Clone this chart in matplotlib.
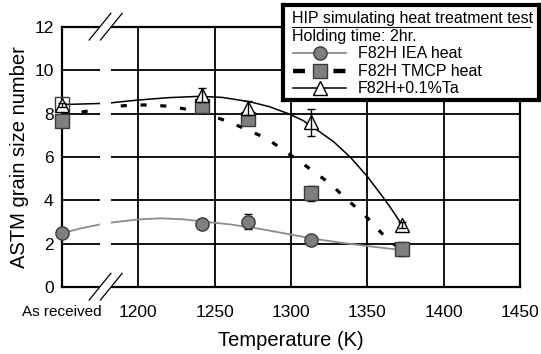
import matplotlib
matplotlib.use("Agg")
import matplotlib.pyplot as plt
from matplotlib.patches import Rectangle
from matplotlib.lines import Line2D

plt.rcParams['font.family'] = ['Liberation Sans', 'DejaVu Sans']

# ---------------- data ----------------
AS_RECEIVED = 1150  # x position used for the "As received" state
temps = [AS_RECEIVED, 1242, 1272, 1313, 1373]

iea_g = [2.48, 2.89, 3.01, 2.17, 1.75]
iea_err = [0.05, 0.05, 0.35, 0.05, 0.05]

tmcp_g = [7.65, 8.35, 7.75, 4.33, 1.76]
tmcp_err = [0.1, 0.1, 0.1, 0.35, 0.33]

ta_g = [8.40, 8.86, 8.25, 7.60, 2.86]
ta_err = [0.1, 0.33, 0.33, 0.63, 0.15]

extra_open_square = (AS_RECEIVED, 8.44)

# trend curves
iea_fit_T = [1150, 1162, 1175, 1182, 1200, 1215, 1230, 1245, 1260, 1280, 1300, 1313, 1330, 1350, 1372]
iea_fit_G = [2.48, 2.70, 2.89, 2.97, 3.12, 3.17, 3.12, 3.00, 2.89, 2.68, 2.42, 2.25, 2.07, 1.89, 1.71]

tmcp_fit_T = [1150, 1162, 1173, 1185, 1196, 1207, 1218, 1228, 1240, 1251, 1262, 1273, 1284, 1295,
              1306, 1316, 1326, 1335, 1344, 1352, 1359, 1366, 1372]
tmcp_fit_G = [7.95, 8.06, 8.20, 8.33, 8.40, 8.40, 8.35, 8.25, 8.09, 7.83, 7.55, 7.20, 6.86, 6.32,
              5.78, 5.27, 4.75, 4.14, 3.59, 3.06, 2.51, 2.05, 1.75]

ta_fit_T = [1150, 1175, 1182, 1200, 1220, 1240, 1255, 1273, 1286, 1299, 1308, 1317, 1328, 1339,
            1350, 1360, 1366, 1372]
ta_fit_G = [8.42, 8.47, 8.50, 8.63, 8.74, 8.80, 8.75, 8.55, 8.32, 7.98, 7.68, 7.25, 6.70, 5.98,
            5.10, 4.17, 3.58, 2.94]

xtick_vals = [1150, 1200, 1250, 1300, 1350, 1400, 1450]
xtick_labels = ["As received", "1200", "1250", "1300", "1350", "1400", "1450"]
ytick_vals = [0, 2, 4, 6, 8, 10, 12]

legend_title = "HIP simulating heat treatment test"
legend_sub = "Holding time: 2hr."
series_names = ["F82H IEA heat", "F82H TMCP heat", "F82H+0.1%Ta"]

# break position on the x axis
BREAK_LO, BREAK_HI = 1174.6, 1182.0

# ---------------- styling ----------------
GRAY_LINE = "#8c8c8c"
GRAY_FILL = "#7f7f7f"
EDGE = "#3a3a3a"

W, H = 541, 354
fig = plt.figure(figsize=(W / 100, H / 100), dpi=100)
ax = fig.add_axes([62 / W, (H - 287) / H, (520 - 62) / W, (287 - 27) / H])

ax.set_xlim(1150, 1450)
ax.set_ylim(0, 12)

# grid
ax.set_xticks(xtick_vals)
ax.set_yticks(ytick_vals)
ax.grid(True, color="black", linewidth=1.3, zorder=1)
ax.set_axisbelow(True)
for s in ax.spines.values():
    s.set_linewidth(1.6)
    s.set_zorder(2.5)

ax.set_xticklabels(xtick_labels)
ax.tick_params(axis="x", length=0, pad=13, labelsize=12.5)
ax.tick_params(axis="y", length=0, pad=6, labelsize=12.5)
ax.get_xticklabels()[0].set_fontsize(11)

ax.set_xlabel("Temperature (K)", fontsize=14.5, labelpad=8)
ax.set_ylabel("ASTM grain size number", fontsize=14.5, labelpad=4)

# trend curves
ax.plot(iea_fit_T, iea_fit_G, color=GRAY_LINE, lw=1.3, zorder=2, solid_capstyle="butt")
ax.plot(tmcp_fit_T, tmcp_fit_G, color="black", lw=2.3, zorder=2, dashes=(1.9, 4.3))
ax.plot(ta_fit_T, ta_fit_G, color="black", lw=1.1, zorder=2)

# white band for the axis break
ax.add_patch(Rectangle((BREAK_LO, -0.15), BREAK_HI - BREAK_LO, 12.3, facecolor="white",
                       edgecolor="none", zorder=2.7, clip_on=False))
# break slashes (top and bottom)
for yc in (0, 12):
    for xs in (BREAK_LO - 6.8, BREAK_HI - 6.8):
        ax.add_line(Line2D([xs, xs + 14.2], [yc - 0.6, yc + 0.63], color="black", lw=0.9,
                           zorder=2.8, clip_on=False))

# data: error bars + markers
ax.errorbar(temps, iea_g, yerr=iea_err, fmt="none", ecolor="black", elinewidth=1, capsize=3,
            zorder=3, clip_on=False)
ax.plot(temps, iea_g, "o", ms=9.5, mfc=GRAY_FILL, mec=EDGE, mew=1, ls="none", zorder=4, clip_on=False)

ax.errorbar(temps, tmcp_g, yerr=tmcp_err, fmt="none", ecolor="black", elinewidth=1, capsize=3,
            zorder=3, clip_on=False)
ax.plot(temps, tmcp_g, "s", ms=9.5, mfc=GRAY_FILL, mec=EDGE, mew=1, ls="none", zorder=4, clip_on=False)

ax.plot([extra_open_square[0]], [extra_open_square[1]], "s", ms=10.5, mfc="none", mec=EDGE, mew=1,
        zorder=4, clip_on=False)
ax.plot(temps, ta_g, "^", ms=10, mfc="white", mec="black", mew=1, ls="none", zorder=5, clip_on=False)
ax.errorbar(temps, ta_g, yerr=ta_err, fmt="none", ecolor="black", elinewidth=1, capsize=3,
            zorder=6, clip_on=False)

# ---------------- legend (manual box) ----------------
L, R, T, B = 283, 539, 5, 100
shadow = fig.add_axes([(L + 2) / W, (H - B - 2) / H, (R - L) / W, (B - T) / H])
shadow.set_facecolor("#9a9a9a")
shadow.set_xticks([]); shadow.set_yticks([])
for s in shadow.spines.values():
    s.set_visible(False)

lg = fig.add_axes([L / W, (H - B) / H, (R - L) / W, (B - T) / H])
lg.set_xlim(L, R)
lg.set_ylim(B, T)
lg.set_facecolor("white")
lg.set_xticks([]); lg.set_yticks([])
for s in lg.spines.values():
    s.set_linewidth(3)
    s.set_color("black")

fs = 11.5
lg.text(292, 18.5, legend_title, fontsize=fs, va="center", ha="left")
lg.plot([292, 530], [27.5, 27.5], color="black", lw=0.8)
lg.text(292, 36.5, legend_sub, fontsize=fs, va="center", ha="left")

rows = [53.5, 71, 88.5]
hx0, hx1, hxm = 293, 346, 319.5
# IEA
lg.plot([hx0, hx1], [rows[0]] * 2, color=GRAY_LINE, lw=1.3)
lg.plot([hxm], [rows[0]], "o", ms=9.5, mfc=GRAY_FILL, mec=EDGE, mew=1)
# TMCP
lg.plot([hx0, hx1], [rows[1]] * 2, color="black", lw=3.2, dashes=(2.7, 6.4))
lg.plot([hxm], [rows[1]], "s", ms=9.5, mfc=GRAY_FILL, mec=EDGE, mew=1)
# Ta
lg.plot([hx0, hx1], [rows[2]] * 2, color="black", lw=1.1)
lg.plot([hxm], [rows[2]], "^", ms=10, mfc="white", mec="black", mew=1)

for yy, name in zip(rows, series_names):
    lg.text(358, yy, name, fontsize=fs, va="center", ha="left")

fig.savefig("out.png", dpi=100)
